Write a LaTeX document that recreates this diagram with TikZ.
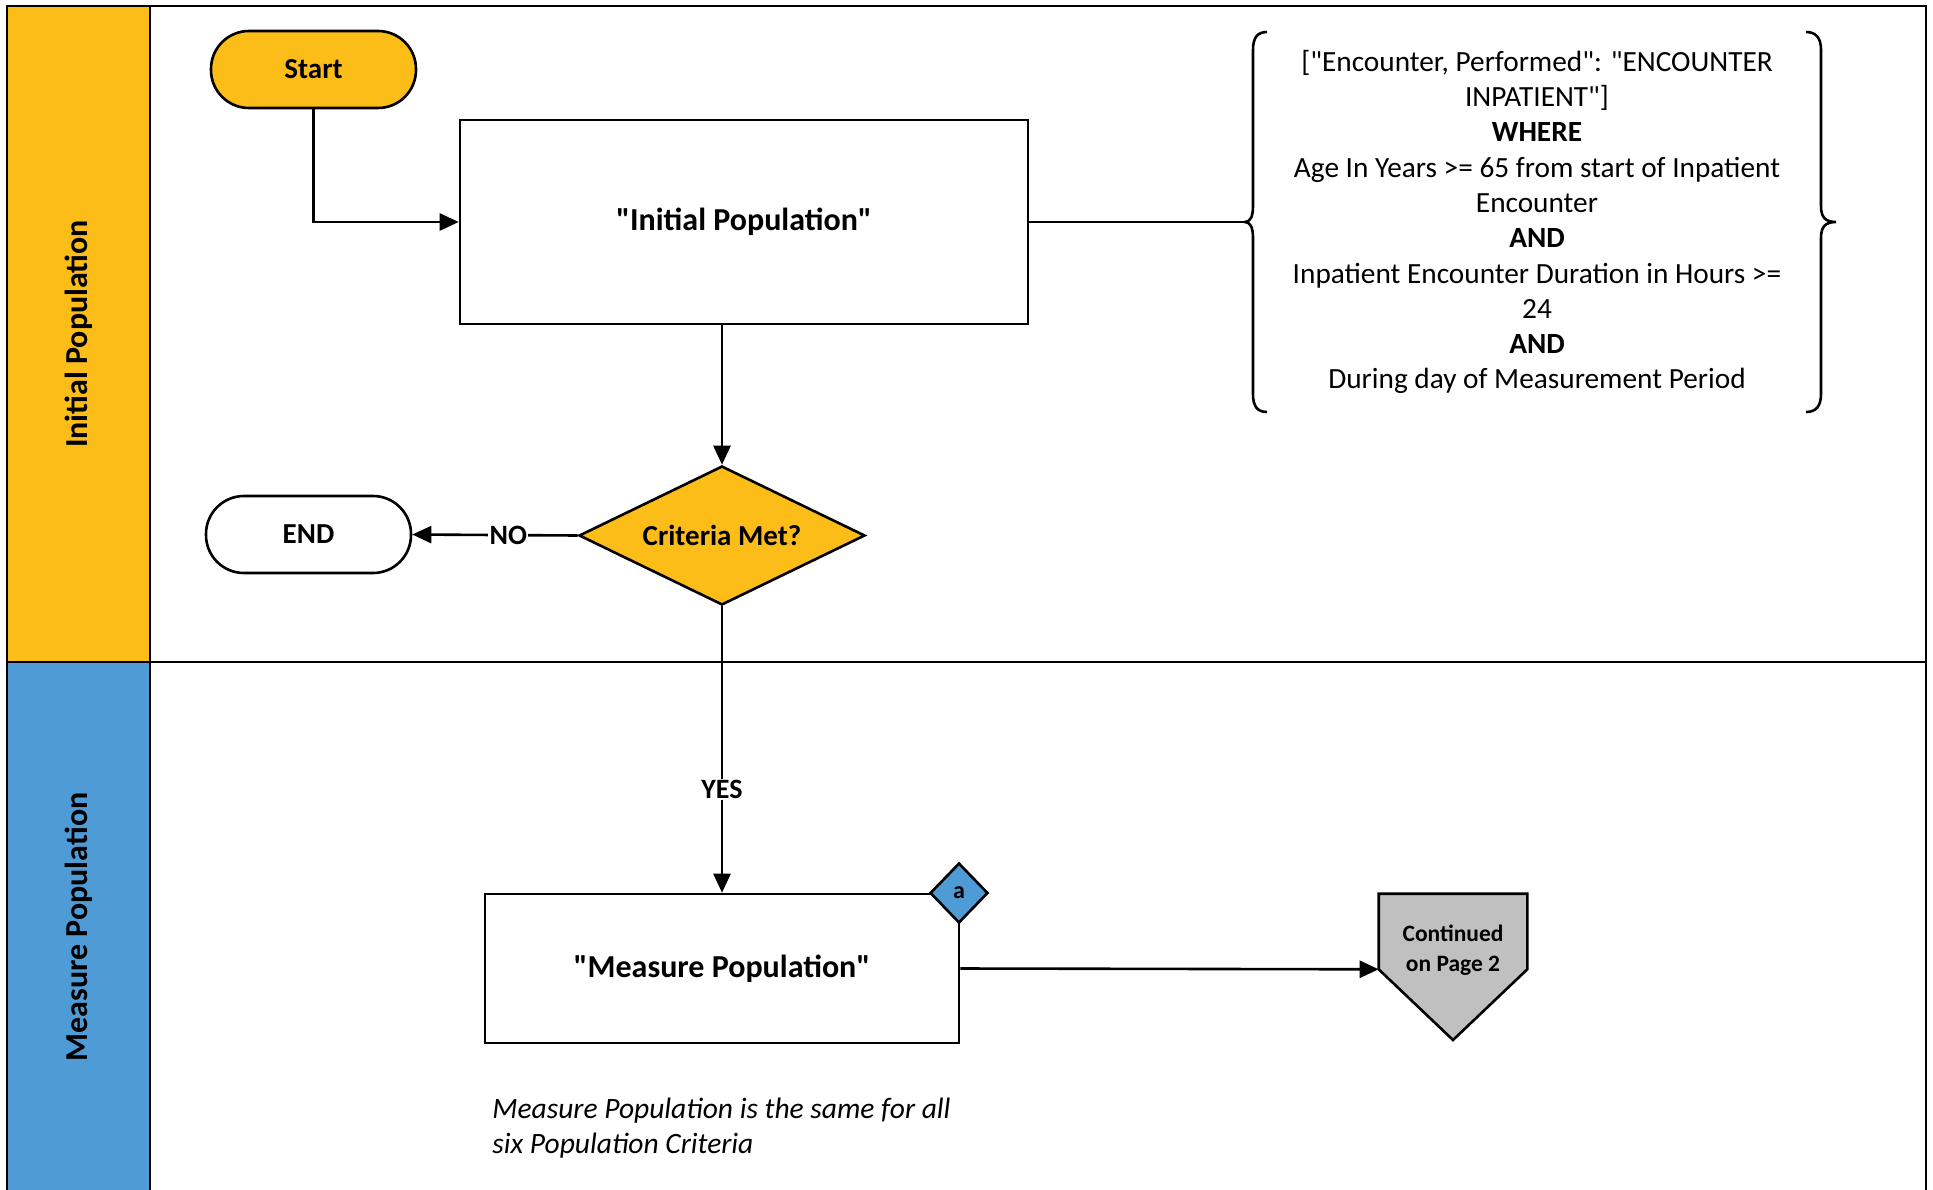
\documentclass[tikz,border=0pt]{standalone}
\usepackage{fontspec}
\setmainfont{Carlito}[Ligatures=TeXOff]
\usetikzlibrary{arrows.meta,shapes.geometric}

\definecolor{laneGold}{RGB}{253,189,25}
\definecolor{laneBlue}{RGB}{78,155,214}
\definecolor{connGray}{RGB}{192,192,192}

\begin{document}
\begin{tikzpicture}[x=1pt,y=-1pt,line width=2.6pt,line join=miter,
  flow/.style={-{Triangle[length=19pt,width=17pt]}},
  terminal/.style={draw,rectangle,rounded corners=38pt,minimum width=205pt,
    minimum height=77pt,inner sep=0pt,font=\fontsize{29}{35}\selectfont\bfseries},
  process/.style={draw,fill=white,rectangle,inner sep=0pt,
    font=\fontsize{32}{38}\selectfont\bfseries},
  decision/.style={draw,diamond,aspect=2.06,fill=laneGold,inner sep=0pt,
    font=\fontsize{29}{35}\selectfont\bfseries},
  lanelabel/.style={rotate=90,font=\fontsize{32}{38}\selectfont\bfseries},
  edgelabel/.style={fill=white,inner sep=1.5pt,font=\fontsize{28}{34}\selectfont\bfseries},
  criteria/.style={align=center,inner sep=0pt,
    font=\fontsize{29.3}{35.3}\selectfont},
  note/.style={align=left,anchor=north west,inner sep=0pt,
    font=\fontsize{29.5}{34.5}\selectfont\itshape}
]
\useasboundingbox (0,0) rectangle (1933,1189);
\clip (0,0) rectangle (1933,1189);

% swimlanes
\fill[white] (0,0) rectangle (1933,1189);
\filldraw[fill=laneGold] (7,6) rectangle (150,662);
\filldraw[fill=laneBlue] (7,662) rectangle (150,1200);
\draw (150,6) rectangle (1926,662);
\draw (150,662) rectangle (1926,1200);
\node[lanelabel] (laneA) at (79,334) {Initial Population};
\node[lanelabel] (laneB) at (79,927) {Measure Population};

% flow nodes
\node[terminal,fill=laneGold] (start) at (313.5,69.5) {Start};
\node[process,minimum width=568pt,minimum height=204pt] (initpop) at (744,222) {"Initial Population"};
\node[decision,minimum width=286pt,minimum height=139pt] (dec) at (722,535.5) {Criteria Met?};
\node[terminal,fill=white] (stop) at (308.5,534.5) {END};
\node[process,minimum width=474pt,minimum height=149pt] (measpop) at (722,968.5) {"Measure Population"};
\node[draw,diamond,fill=laneBlue,inner sep=0pt,minimum width=58pt,minimum height=60pt,
  font=\fontsize{24}{28}\selectfont\bfseries] (tag) at (959,893) {a};

% off-page connector: pentagon built on an empty frame node
\node[inner sep=0pt,minimum width=146pt,minimum height=73pt] (cont) at (1453,931.5) {};
\coordinate (contTip) at (1453,1040);
\filldraw[fill=connGray] (cont.north west) -- (cont.north east) -- (cont.south east)
  -- (contTip) -- (cont.south west) -- cycle;
\node[inner sep=0pt,align=center,font=\fontsize{23.5}{29.5}\selectfont\bfseries]
  (contText) at (1453,950) {Continued\\on Page 2};

% criteria annotation with braces
\node[criteria] (crit) at (1537,222) {%
  ["Encounter, Performed": "ENCOUNTER\\
  INPATIENT"]\\
  \textbf{WHERE}\\
  Age In Years >= 65 from start of Inpatient\\
  Encounter\\
  \textbf{AND}\\
  Inpatient Encounter Duration in Hours >=\\
  24\\
  \textbf{AND}\\
  During day of Measurement Period};
\coordinate (braceTip) at (1245,222);
\draw (1267,32) .. controls (1257,32) and (1253,38) .. (1253,50) -- (1253,206)
  .. controls (1253,217) and (1250,222) .. (braceTip)
  .. controls (1250,222) and (1253,227) .. (1253,238) -- (1253,394)
  .. controls (1253,406) and (1257,412) .. (1267,412);
\draw (1806,32) .. controls (1816,32) and (1821,38) .. (1821,50) -- (1821,206)
  .. controls (1821,217) and (1825,222) .. (1836,222)
  .. controls (1825,222) and (1821,227) .. (1821,238) -- (1821,394)
  .. controls (1821,406) and (1816,412) .. (1806,412);

% connectors
\draw[flow] (start.south) |- (initpop.west);
\draw (initpop.east) -- (braceTip);
\draw[flow] (initpop.south -| dec.north) -- (dec.north);
\draw[flow] (dec.west) -- node[edgelabel,pos=0.42] (noLbl) {NO} (stop.east);
\draw[flow] (dec.south) -- node[edgelabel,pos=0.64] (yesLbl) {YES} (measpop.north);
\draw[flow] (measpop.east) -- (cont.south west);

% remark
\node[note] (remark) at (491,1097) {Measure Population is the same for all\\six Population Criteria};
\end{tikzpicture}
\end{document}
